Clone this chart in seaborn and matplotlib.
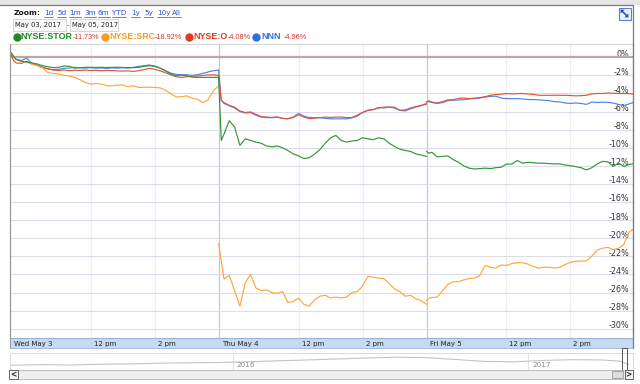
import numpy as np
import pandas as pd
import matplotlib
matplotlib.use("Agg")
import matplotlib.pyplot as plt
import matplotlib.transforms as mtransforms
from matplotlib.lines import Line2D
from matplotlib.patches import Rectangle, Polygon
import seaborn as sns

# ---------------- data ----------------
series_names = ["NYSE:STOR", "NYSE:SRC", "NYSE:O", "NNN"]
series_changes = ["-11.73%", "-18.92%", "-4.08%", "-4.96%"]
series_colors = ["#36953a", "#ffa63c", "#e0553a", "#4d86e6"]
legend_colors = ["#1f8a24", "#ff9a26", "#e03a1e", "#2f6fe4"]

# trading minutes after the 9:30 open, shared by every day
minutes = [0, 5, 10, 20, 30, 40, 50, 60, 70, 80, 90, 100, 110, 120, 130, 140,
           150, 160, 170, 180, 190, 200, 210, 220, 230, 240, 250, 260, 270,
           280, 290, 300, 310, 320, 330, 340, 350, 360, 370, 380, 390]

stor_wed = [0.56, 0.15, -0.22, -0.44, -0.52, -0.63, -0.74, -0.93, -1.04, -1.15, -1.11, -0.96,
            -1.0, -1.19, -1.15, -1.11, -1.1, -1.12, -1.1, -1.13, -1.11, -1.1,
            -1.12, -1.14, -1.15, -1.11, -1.0, -0.93, -1.0, -1.19, -1.48, -1.85,
            -2.04, -1.96, -2.04, -2.19, -2.22, -2.22, -2.22, -2.22, -2.2]
stor_thu = [-2.2, -9.19, -8.5, -7.0, -7.7, -9.74, -9.0, -9.19, -9.37, -9.5, -9.8, -9.9,
            -9.8, -10.0, -10.3, -10.67, -10.9, -11.2, -11.1, -10.7, -10.2, -9.5,
            -8.9, -8.63, -9.19, -9.37, -9.25, -9.19, -8.89, -9.0, -9.1, -8.9,
            -9.0, -9.5, -9.85, -10.15, -10.3, -10.4, -10.67, -10.8, -10.96]
stor_fri = [-10.4, -10.6, -10.5, -11.0, -10.95, -10.9, -11.3, -11.6, -12.0, -12.25, -12.34, -12.3,
            -12.25, -12.3, -12.2, -12.15, -11.8, -11.8, -11.4, -11.7, -11.6, -11.65,
            -11.7, -11.7, -11.75, -11.78, -11.78, -11.9, -11.98, -12.08, -12.2, -12.45,
            -12.2, -11.8, -11.5, -11.55, -12.05, -11.7, -12.05, -11.85, -11.73]

src_wed = [0.56, 0.15, -0.26, -0.44, -0.56, -0.74, -0.93, -1.19, -1.7, -1.78, -1.85, -2.0,
           -2.07, -2.22, -2.48, -2.78, -2.96, -2.89, -2.96, -3.15, -3.15, -3.07,
           -3.04, -3.26, -3.15, -3.33, -3.33, -3.3, -3.33, -3.37, -3.63, -4.0,
           -4.37, -4.37, -4.26, -4.52, -4.63, -5.0, -4.74, -3.7, -3.15]
src_thu = [-20.6, -22.5, -24.5, -24.1, -25.8, -27.5, -24.9, -24.0, -25.5, -25.8, -25.7, -26.0,
           -26.1, -25.9, -27.1, -27.0, -26.6, -27.3, -27.5, -26.8, -26.4, -26.3,
           -26.6, -26.5, -26.6, -26.5, -26.0, -25.9, -25.3, -24.2, -24.3, -24.4,
           -24.45, -25.0, -25.6, -25.9, -26.4, -26.3, -26.7, -26.9, -27.3]
src_fri = [-26.9, -26.6, -26.55, -26.5, -25.8, -25.1, -24.8, -24.8, -24.6, -24.45, -24.4, -24.1,
           -23.0, -23.2, -23.3, -22.95, -23.0, -22.8, -22.7, -22.7, -22.85, -23.1,
           -23.3, -23.2, -23.2, -23.3, -23.2, -22.9, -22.65, -22.55, -22.5, -22.5,
           -22.0, -21.3, -21.1, -21.0, -21.25, -21.1, -20.7, -19.3, -18.92]

o_wed = [0.37, -0.3, -0.63, -0.67, -0.45, -0.74, -0.89, -1.11, -1.26, -1.41, -1.45, -1.41,
         -1.48, -1.43, -1.45, -1.41, -1.46, -1.44, -1.48, -1.45, -1.47, -1.5,
         -1.52, -1.5, -1.56, -1.48, -1.37, -1.22, -1.33, -1.48, -1.7, -1.93,
         -2.15, -2.22, -2.15, -2.11, -2.07, -2.0, -1.96, -1.93, -2.0]
o_thu = [-2.0, -4.74, -5.0, -5.3, -5.5, -5.93, -6.1, -6.04, -6.3, -6.55, -6.6, -6.65,
         -6.6, -6.75, -6.78, -6.65, -6.35, -6.6, -6.78, -6.72, -6.67, -6.6,
         -6.65, -6.6, -6.6, -6.67, -6.65, -6.4, -6.1, -5.86, -5.78, -5.6,
         -5.5, -5.5, -5.5, -5.85, -5.8, -5.6, -5.45, -5.3, -5.19]
o_fri = [-4.93, -4.8, -5.0, -5.1, -5.0, -4.8, -4.67, -4.55, -4.5, -4.56, -4.52, -4.45,
         -4.35, -4.2, -4.12, -4.08, -4.0, -4.05, -4.02, -4.0, -4.05, -4.1,
         -4.19, -4.2, -4.2, -4.19, -4.2, -4.2, -4.22, -4.26, -4.24, -4.2,
         -4.05, -4.0, -4.0, -3.95, -3.97, -4.0, -4.0, -4.02, -4.08]

nnn_wed = [0.44, 0.1, -0.22, -0.35, -0.1, -0.67, -0.89, -1.1, -1.3, -1.37, -1.33, -1.22,
           -1.19, -1.11, -1.15, -1.19, -1.15, -1.2, -1.18, -1.22, -1.17, -1.2,
           -1.15, -1.19, -1.11, -1.0, -0.93, -0.85, -0.96, -1.19, -1.48, -1.74,
           -1.89, -1.93, -1.93, -2.0, -1.93, -1.78, -1.63, -1.48, -1.41]
nnn_thu = [-1.4, -4.74, -5.1, -5.35, -5.6, -6.0, -6.15, -6.1, -6.4, -6.6, -6.67, -6.67,
           -6.6, -6.75, -6.8, -6.6, -6.2, -6.5, -6.65, -6.67, -6.67, -6.75,
           -6.8, -6.8, -6.8, -6.8, -6.7, -6.5, -6.1, -5.86, -5.78, -5.55,
           -5.6, -5.5, -5.6, -5.86, -5.93, -5.7, -5.5, -5.35, -5.1]
nnn_fri = [-4.9, -4.93, -4.95, -5.04, -4.9, -4.7, -4.74, -4.72, -4.68, -4.6, -4.56, -4.5,
           -4.4, -4.32, -4.3, -4.5, -4.56, -4.56, -4.56, -4.6, -4.67, -4.67,
           -4.7, -4.74, -4.8, -4.9, -4.93, -5.05, -5.1, -5.05, -5.1, -5.2,
           -4.95, -5.0, -4.95, -4.98, -5.05, -5.2, -5.35, -5.15, -4.96]

x_tick_minutes = [0, 150, 270, 390, 540, 660, 780, 930, 1050]
x_tick_labels = ["Wed May 3", "12 pm", "2 pm", "Thu May 4", "12 pm", "2 pm",
                 "Fri May 5", "12 pm", "2 pm"]
y_ticks = [0, -2, -4, -6, -8, -10, -12, -14, -16, -18, -20, -22, -24, -26, -28, -30]
y_tick_labels = ["0%", "-2%", "-4%", "-6%", "-8%", "-10%", "-12%", "-14%", "-16%",
                 "-18%", "-20%", "-22%", "-24%", "-26%", "-28%", "-30%"]

zoom_links = ["1d", "5d", "1m", "3m", "6m", "YTD", "1y", "5y", "10y", "All"]
date_from, date_to = "May 03, 2017", "May 05, 2017"

nav_years = [2015.24, 2015.35, 2015.45, 2015.55, 2015.65, 2015.75, 2015.85, 2015.95,
             2016.05, 2016.15, 2016.25, 2016.35, 2016.45, 2016.55, 2016.65, 2016.75,
             2016.85, 2016.95, 2017.05, 2017.15, 2017.25, 2017.31, 2017.34]
nav_values = [3.0, 3.5, 3.2, 3.8, 4.0, 4.5, 4.8, 5.0, 5.5, 6.2, 6.8, 7.5, 8.2, 8.8,
              8.5, 7.2, 5.8, 5.5, 6.5, 7.0, 6.8, 6.0, 3.5]
nav_year_labels = [2016, 2017]

# ---------------- build table ----------------
all_days = {
    "NYSE:STOR": [stor_wed, stor_thu, stor_fri],
    "NYSE:SRC": [src_wed, src_thu, src_fri],
    "NYSE:O": [o_wed, o_thu, o_fri],
    "NNN": [nnn_wed, nnn_thu, nnn_fri],
}
rows = []
for name in series_names:
    for d, vals in enumerate(all_days[name]):
        for m, v in zip(minutes, vals):
            rows.append({"t": d * 390 + m, "pct": v, "series": name, "day": d})
df = pd.DataFrame(rows)

# ---------------- figure ----------------
sns.set_theme(style="white")
plt.rcParams["font.family"] = ["DejaVu Sans"]

W, H = 640, 384
fig = plt.figure(figsize=(6.4, 3.84), dpi=100)
fig.patch.set_facecolor("white")


def P(x, y):
    return (x / W, 1 - y / H)


def add_rect(x0, y0, x1, y1, **kw):
    r = Rectangle(P(x0, y1), (x1 - x0) / W, (y1 - y0) / H, transform=fig.transFigure, **kw)
    fig.add_artist(r)
    return r


def add_line(xs, ys, **kw):
    ln = Line2D([x / W for x in xs], [1 - y / H for y in ys], transform=fig.transFigure, **kw)
    fig.add_artist(ln)
    return ln


def add_poly(pts, **kw):
    pg = Polygon([P(x, y) for x, y in pts], closed=True, transform=fig.transFigure, **kw)
    fig.add_artist(pg)
    return pg


# main plot area
AX_L, AX_R, AX_T, AX_B = 10, 632.7, 44, 338
ax = fig.add_axes([AX_L / W, 1 - AX_B / H, (AX_R - AX_L) / W, (AX_B - AX_T) / H])
ax.set_facecolor("white")

palette = dict(zip(series_names, series_colors))
draw_order = ["NNN", "NYSE:O", "NYSE:SRC", "NYSE:STOR"]
sns.lineplot(data=df, x="t", y="pct", hue="series", hue_order=draw_order,
             palette=palette, units="day", estimator=None, legend=False,
             linewidth=0.85, sort=False, ax=ax)

ax.set_xlim(-1.3, 1166.8)
ax.set_ylim(-31.02, 1.47)
ax.set_xlabel("")
ax.set_ylabel("")

# grid
for yv in y_ticks[1:]:
    ax.axhline(yv, color="#dcdde9", lw=0.8, zorder=0.5)
ax.axhline(0, color="#b9aaa7", lw=1.6, zorder=0.6)
for tv in [150, 270, 540, 660, 930, 1050]:
    ax.axvline(tv, color="#ececf1", lw=0.8, zorder=0.4)
for tv in [390, 780]:
    ax.axvline(tv, color="#c9c9c9", lw=0.9, zorder=0.4)

for side, col in [("top", "#d6d6d6"), ("right", "#7a7a7a"), ("left", "#9a9a9a"), ("bottom", "#9db4d0")]:
    ax.spines[side].set_color(col)
    ax.spines[side].set_linewidth(0.8)

# x ticks inside blue band
ax.set_xticks(x_tick_minutes)
ax.set_xticklabels(x_tick_labels)
ax.tick_params(axis="x", direction="inout", length=3.5, width=0.8, color="#222222",
               pad=0.3, labelsize=5, labelcolor="#222222")
offx = mtransforms.ScaledTranslation(3 / 100, 0, fig.dpi_scale_trans)
for tk in ax.xaxis.get_major_ticks():
    tk.label1.set_horizontalalignment("left")
    tk.label1.set_transform(tk.label1.get_transform() + offx)

# y ticks inside the plot on the right
ax.yaxis.tick_right()
ax.set_yticks(y_ticks)
ax.set_yticklabels(y_tick_labels)
ax.tick_params(axis="y", length=0, pad=-2.2, labelsize=5.8, labelcolor="#333333",
               labelright=True, labelleft=False)
offy = mtransforms.ScaledTranslation(0, 0.6 / 100, fig.dpi_scale_trans)
for tk in ax.yaxis.get_major_ticks():
    tk.label2.set_horizontalalignment("right")
    tk.label2.set_verticalalignment("baseline")
    tk.label2.set_transform(tk.label2.get_transform() + offy)

# blue x-axis band (behind axes labels)
add_rect(AX_L, AX_B, AX_R, 348.3, facecolor="#c6daf1", edgecolor="#9db4d0", lw=0.6, zorder=-1)

# outer frame and top bar
add_rect(0, 0, 640, 4.5, facecolor="#e6e6e6", edgecolor="none", zorder=-2)
add_line([0, AX_R], [4.7, 4.7], color="#7a7a7a", lw=0.9)
add_line([AX_R, AX_R], [4.7, 348.3], color="#7a7a7a", lw=0.9)
add_line([AX_L, AX_L], [AX_T, 348.3], color="#9a9a9a", lw=0.8)

# header: zoom links
fig.text(*P(14, 13.3), "Zoom:", fontsize=5.4, fontweight="bold", color="#111111", va="center")
link_x = [44, 57, 69, 84, 98, 112, 131, 144, 157, 172]
link_texts = []
for lx, lt in zip(link_x, zoom_links):
    link_texts.append(fig.text(*P(lx, 13.3), lt, fontsize=5.2, color="#2a4fcf", va="center"))

# date boxes
add_rect(12.7, 19.5, 65.5, 30.5, facecolor="#fafafa", edgecolor="#cfcfcf", lw=0.6)
add_rect(70, 19.5, 117.5, 30.5, facecolor="#fafafa", edgecolor="#cfcfcf", lw=0.6)
fig.text(*P(15, 25.2), date_from, fontsize=4.9, color="#222222", va="center")
fig.text(*P(66.6, 25.2), "-", fontsize=4.9, color="#222222", va="center")
fig.text(*P(72.5, 25.2), date_to, fontsize=4.9, color="#222222", va="center")

# legend line
dot_x = [16.5, 105, 189, 256]
name_x = [20, 109, 193, 261]
chg_x = [72.5, 155, 228, 284]
for dx, nx, cx, nm, ch, col in zip(dot_x, name_x, chg_x, series_names, series_changes, legend_colors):
    add_line([dx], [36.8], marker="o", markersize=5.0, color=col, linestyle="none")
    fig.text(*P(nx, 36.8), nm, fontsize=6.4, fontweight="bold", color=col, va="center",
             family="Liberation Sans")
    fig.text(*P(cx, 37.4), ch, fontsize=5.2, color="#d0342c", va="center",
             family="Liberation Sans")

# expand icon (top right)
add_rect(618.5, 7.5, 630.5, 19.5, facecolor="#eaf0fb", edgecolor="#5b80d2", lw=0.8)
add_line([622, 627], [11, 16], color="#2452b4", lw=1.1)
add_poly([(620.5, 9.5), (624.5, 9.7), (620.7, 13.5)], facecolor="#2452b4", edgecolor="none")
add_poly([(628.5, 17.5), (624.5, 17.3), (628.3, 13.5)], facecolor="#2452b4", edgecolor="none")

# navigator
NAV_T, NAV_B = 352.7, 369.5
axn = fig.add_axes([AX_L / W, 1 - NAV_B / H, (AX_R - AX_L) / W, (NAV_B - NAV_T) / H])
sns.lineplot(x=nav_years, y=nav_values, ax=axn, color="#c4c4c4", linewidth=0.8)
axn.set_xlim(2015.244, 2017.353)
axn.set_ylim(0, 12)
axn.set_xticks([])
axn.set_yticks([])
axn.set_xlabel("")
axn.set_ylabel("")
for s in axn.spines.values():
    s.set_color("#dadada")
    s.set_linewidth(0.7)
for yr in nav_year_labels:
    axn.axvline(yr, color="#e2e2e2", lw=0.8, zorder=0.5)
    axn.text(yr + 0.012, 0.28, str(yr), transform=axn.get_xaxis_transform(),
             fontsize=5.2, color="#8a8a8a", va="center", ha="left")

# selection bracket in navigator
add_rect(621.5, 348.3, 627, 370, facecolor="none", edgecolor="#555555", lw=0.7)

# scrollbar
add_rect(10, 370, AX_R, 379, facecolor="#eeeeee", edgecolor="#b3b3b3", lw=0.6)
add_rect(9, 370.3, 17.5, 378.7, facecolor="#f3f3f3", edgecolor="#666666", lw=0.7)
add_rect(624.5, 370.3, 633, 378.7, facecolor="#f3f3f3", edgecolor="#666666", lw=0.7)
add_rect(612, 371, 623, 378, facecolor="#dddddd", edgecolor="#9a9a9a", lw=0.6)
fig.text(*P(13.2, 374.6), "<", fontsize=5.5, fontweight="bold", color="#222222", ha="center", va="center")
fig.text(*P(628.8, 374.6), ">", fontsize=5.5, fontweight="bold", color="#222222", ha="center", va="center")

# underline links
fig.canvas.draw()
r = fig.canvas.get_renderer()
for t in link_texts:
    bb = t.get_window_extent(r)
    y = bb.y0 - 0.5
    fig.add_artist(Line2D([bb.x0 / W, bb.x1 / W], [y / H, y / H], transform=fig.transFigure,
                          color="#2a4fcf", lw=0.5))

fig.savefig("out.png", dpi=100, facecolor="white")
